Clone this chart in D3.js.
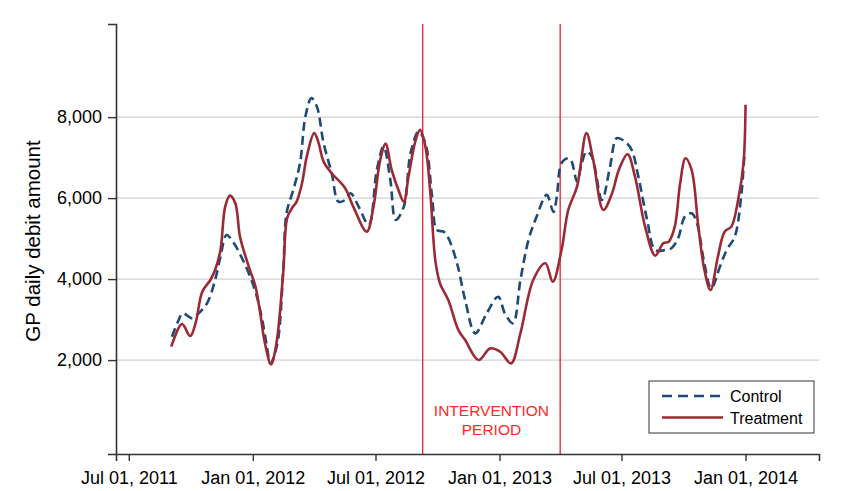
<!DOCTYPE html>
<html>
<head>
<meta charset="utf-8">
<script src="https://cdn.jsdelivr.net/npm/d3@7"></script>
<style>
  html, body { margin: 0; padding: 0; background: #fff; }
  svg { display: block; font-family: "Liberation Sans", Arial, Helvetica, sans-serif; }
</style>
</head>
<body>
<svg id="chart" width="868" height="491"></svg>
<script>
// ---- Data ----
const treatmentDates = ["2011-09-02","2011-09-18","2011-09-30","2011-10-08","2011-10-18","2011-10-30","2011-11-06","2011-11-14","2011-11-21","2011-11-28","2011-12-06","2011-12-13","2011-12-26","2012-01-05","2012-01-12","2012-01-19","2012-01-28","2012-02-05","2012-02-15","2012-02-21","2012-02-28","2012-03-06","2012-03-14","2012-03-21","2012-04-01","2012-04-07","2012-04-15","2012-04-27","2012-05-17","2012-05-29","2012-06-18","2012-06-28","2012-07-08","2012-07-16","2012-07-25","2012-08-04","2012-08-12","2012-08-19","2012-08-29","2012-09-05","2012-09-13","2012-09-20","2012-09-28","2012-10-05","2012-10-17","2012-11-01","2012-11-11","2012-12-01","2012-12-18","2013-01-02","2013-01-18","2013-02-01","2013-02-20","2013-03-10","2013-03-21","2013-04-03","2013-04-13","2013-04-26","2013-05-10","2013-05-20","2013-06-04","2013-06-17","2013-06-27","2013-07-10","2013-07-21","2013-08-05","2013-08-20","2013-09-01","2013-09-09","2013-09-18","2013-09-26","2013-10-04","2013-10-13","2013-10-23","2013-11-01","2013-11-10","2013-11-21","2013-12-01","2013-12-11","2013-12-21","2013-12-29","2014-01-01"];
const treatmentValues = [2330,2890,2593,2907,3688,3977,4225,4719,5789,6061,5873,5048,4306,3812,3154,2413,1894,2413,4143,5510,5750,5913,6368,7025,7604,7396,6902,6615,6244,5789,5171,5789,6944,7339,6697,6202,5913,6531,7396,7685,7273,6202,4430,3879,3483,2741,2494,2000,2289,2205,1918,2660,3977,4390,3935,4719,5708,6284,7604,6944,5708,6121,6697,7085,6531,5295,4578,4885,4924,5295,6368,6986,6697,5295,4225,3730,4553,5171,5295,5955,6862,8303];

const controlDates = ["2011-09-03","2011-09-13","2011-09-19","2011-10-03","2011-10-10","2011-10-25","2011-11-06","2011-11-14","2011-11-23","2011-12-04","2011-12-16","2011-12-28","2012-01-07","2012-01-15","2012-01-22","2012-01-27","2012-02-06","2012-02-15","2012-02-20","2012-03-01","2012-03-11","2012-03-19","2012-03-28","2012-04-05","2012-04-15","2012-04-27","2012-05-07","2012-05-17","2012-05-25","2012-06-06","2012-06-21","2012-07-03","2012-07-13","2012-07-23","2012-07-31","2012-08-12","2012-08-22","2012-09-03","2012-09-13","2012-09-23","2012-09-30","2012-10-10","2012-10-17","2012-10-30","2012-11-11","2012-11-26","2012-12-13","2012-12-30","2013-01-09","2013-01-21","2013-02-01","2013-02-13","2013-02-25","2013-03-12","2013-03-22","2013-03-27","2013-04-03","2013-04-13","2013-04-18","2013-04-26","2013-05-03","2013-05-10","2013-05-18","2013-06-02","2013-06-14","2013-06-24","2013-07-06","2013-07-16","2013-07-26","2013-08-08","2013-08-20","2013-09-04","2013-09-13","2013-09-23","2013-10-03","2013-10-13","2013-10-21","2013-10-31","2013-11-11","2013-11-24","2013-12-04","2013-12-16","2013-12-26","2013-12-31","2014-01-01"];
const controlValues = [2576,2989,3154,3031,3112,3401,3977,4553,5090,4885,4514,4059,3565,2989,2329,1918,2371,4175,5626,6202,6862,8014,8469,8261,7357,6615,5913,5955,6121,5789,5337,6697,7273,6449,5461,5789,7109,7643,7357,6037,5213,5171,5016,4390,3483,2660,3154,3565,3154,2907,3977,4966,5542,6079,5658,6037,6862,6986,6902,6407,6862,7149,7025,5955,6778,7480,7396,7191,6531,5461,4719,4719,4761,5008,5542,5626,5379,4472,3772,4306,4719,5048,6121,7109,7150];

const xTickDates = ["2011-07-01","2012-01-01","2012-07-01","2013-01-01","2013-07-01","2014-01-01"];
const yTickValues = [2000,4000,6000,8000];
const interventionDates = ["2012-09-09","2013-04-01"];
const seriesNames = ["Control","Treatment"];
const yAxisTitle = "GP daily debit amount";
const interventionLabel = ["INTERVENTION","PERIOD"];

// ---- Setup ----
const parse = d3.timeParse("%Y-%m-%d");
const svg = d3.select("#chart");
const plot = { left: 116, right: 819, top: 24, bottom: 454 };

const x = d3.scaleTime()
  .domain([parse("2011-06-12"), parse("2014-04-20")])
  .range([plot.left, plot.right]);
const y = d3.scaleLinear()
  .domain([-320, 10300])
  .range([plot.bottom, plot.top]);

const treatment = treatmentDates.map((d, i) => ({ date: parse(d), value: treatmentValues[i] }));
const control = controlDates.map((d, i) => ({ date: parse(d), value: controlValues[i] }));

// Gridlines
svg.append("g").selectAll("line").data(yTickValues).join("line")
  .attr("x1", plot.left).attr("x2", plot.right)
  .attr("y1", d => y(d)).attr("y2", d => y(d))
  .attr("stroke", "#d2d2d2").attr("stroke-width", 1.2);

// Intervention lines
svg.append("g").selectAll("line").data(interventionDates).join("line")
  .attr("x1", d => x(parse(d))).attr("x2", d => x(parse(d)))
  .attr("y1", plot.top).attr("y2", plot.bottom)
  .attr("stroke", "#e5323b").attr("stroke-width", 1.4);

const midX = (x(parse(interventionDates[0])) + x(parse(interventionDates[1]))) / 2;
svg.append("g").selectAll("text").data(interventionLabel).join("text")
  .attr("x", midX).attr("y", (d, i) => 416 + i * 19)
  .attr("text-anchor", "middle")
  .attr("fill", "#ff2a1f")
  .attr("font-size", "15.5px")
  .text(d => d);

// Lines
const line = d3.line()
  .x(d => x(d.date)).y(d => y(d.value))
  .curve(d3.curveCatmullRom.alpha(0.5));

svg.append("path").datum(control)
  .attr("d", line).attr("fill", "none")
  .attr("stroke", "#1f4a78").attr("stroke-width", 2.6)
  .attr("stroke-dasharray", "9,5");

svg.append("path").datum(treatment)
  .attr("d", line).attr("fill", "none")
  .attr("stroke", "#9c2a35").attr("stroke-width", 2.6);

// Axes
const xAxis = d3.axisBottom(x)
  .tickValues(xTickDates.map(parse))
  .tickFormat(d3.timeFormat("%b %d, %Y"))
  .tickSizeOuter(0).tickSize(7).tickPadding(10);
const gx = svg.append("g").attr("transform", `translate(0,${plot.bottom})`).call(xAxis);
gx.select(".domain").attr("stroke", "#333").attr("stroke-width", 1.6);
gx.selectAll(".tick line").attr("stroke", "#333").attr("stroke-width", 1.4);
gx.selectAll(".tick text").attr("font-size", "18px").attr("fill", "#000")
  .attr("font-family", "Liberation Sans, Arial, sans-serif");

const yAxis = d3.axisLeft(y)
  .tickValues(yTickValues)
  .tickFormat(d3.format(","))
  .tickSizeOuter(0).tickSize(8).tickPadding(6);
const gy = svg.append("g").attr("transform", `translate(${plot.left},0)`).call(yAxis);
gy.select(".domain").attr("stroke", "#333").attr("stroke-width", 1.6);
gy.selectAll(".tick line").attr("stroke", "#333").attr("stroke-width", 1.4);
gy.selectAll(".tick text").attr("font-size", "18px").attr("fill", "#000")
  .attr("font-family", "Liberation Sans, Arial, sans-serif");

// Y title
svg.append("text")
  .attr("transform", `translate(40,${(plot.top + plot.bottom) / 2 + 2}) rotate(-90)`)
  .attr("text-anchor", "middle")
  .attr("font-size", "20.5px").attr("fill", "#000")
  .text(yAxisTitle);

// Legend
const lg = svg.append("g");
lg.append("rect").attr("x", 649).attr("y", 381).attr("width", 165).attr("height", 52)
  .attr("fill", "#fff").attr("stroke", "#555").attr("stroke-width", 1.2);
const legendItems = [
  { name: seriesNames[0], color: "#1f4a78", dash: "10,6", y: 396 },
  { name: seriesNames[1], color: "#9c2a35", dash: null, y: 417.5 }
];
legendItems.forEach(it => {
  lg.append("line").attr("x1", 662).attr("x2", 723).attr("y1", it.y).attr("y2", it.y)
    .attr("stroke", it.color).attr("stroke-width", 2.6)
    .attr("stroke-dasharray", it.dash);
  lg.append("text").attr("x", 730).attr("y", it.y + 6)
    .attr("font-size", "16px").attr("fill", "#000").text(it.name);
});
</script>
</body>
</html>
